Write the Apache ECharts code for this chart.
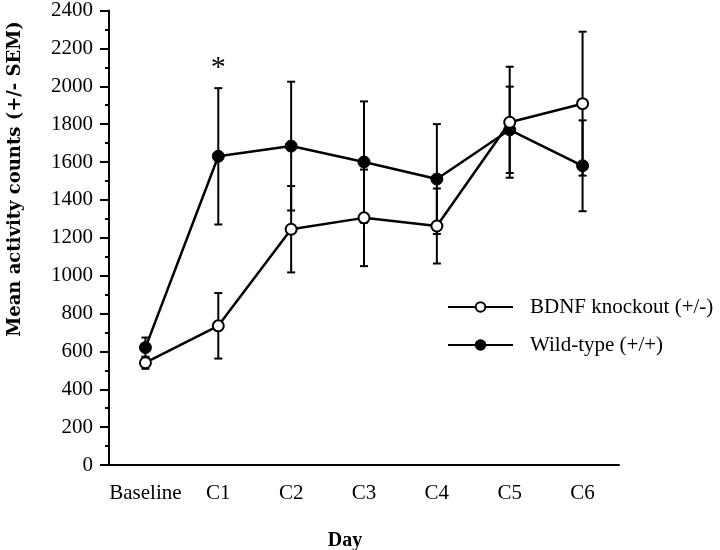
<!DOCTYPE html>
<html><head><meta charset="utf-8">
<script src="https://cdn.jsdelivr.net/npm/echarts@6/dist/echarts.min.js"></script>
<style>html,body{margin:0;padding:0;background:#fff}#c{width:720px;height:550px}</style>
</head><body><div id="c"></div>
<script>
const categories = ['Baseline','C1','C2','C3','C4','C5','C6'];
const koMean = [540, 735, 1245, 1305, 1262, 1810, 1908];
const koSem  = [32, 173, 228, 255, 198, 293, 380];
const wtMean = [620, 1630, 1684, 1600, 1510, 1770, 1580];
const wtSem  = [53, 360, 340, 320, 290, 228, 240];
const yTicks = [0, 200, 400, 600, 800, 1000, 1200, 1400, 1600, 1800, 2000, 2200, 2400];
const koName = 'BDNF knockout (+/-)';
const wtName = 'Wild-type (+/+)';
const starPoint = ['C1', 2136];

const serif = '"Liberation Serif", "Times New Roman", serif';

function errData(mean, sem){ return mean.map((m,i)=>[i, m - sem[i], m + sem[i]]); }
function renderErr(params, api){
  const x = api.value(0);
  const lo = api.coord([x, api.value(1)]);
  const hi = api.coord([x, api.value(2)]);
  const cw = 4;
  const st = {stroke:'#000', lineWidth:2};
  return {type:'group', children:[
    {type:'line', shape:{x1:lo[0], y1:lo[1], x2:hi[0], y2:hi[1]}, style:st},
    {type:'line', shape:{x1:lo[0]-cw, y1:lo[1], x2:lo[0]+cw, y2:lo[1]}, style:st},
    {type:'line', shape:{x1:hi[0]-cw, y1:hi[1], x2:hi[0]+cw, y2:hi[1]}, style:st}
  ]};
}

const chart = echarts.init(document.getElementById('c'), null, {renderer:'canvas'});
chart.setOption({
  animation:false,
  backgroundColor:'#fff',
  grid:{left:109, right:101, top:10, bottom:85, containLabel:false},
  title:{text:'Day', left:340, top:526, textAlign:'center',
    textStyle:{fontFamily:serif, fontWeight:'bold', fontSize:20, color:'#000'}},
  graphic:[{type:'text', x:15, y:179, rotation:Math.PI/2,
    style:{text:'Mean activity counts (+/- SEM)', fill:'#000', font:'bold 18px "DejaVu Serif", serif',
      textAlign:'center', textVerticalAlign:'middle'}}],
  legend:{orient:'vertical', left:442, top:291, itemWidth:65, itemHeight:12, itemGap:16,
    data:[koName, wtName],
    textStyle:{fontFamily:serif, fontSize:21, color:'#000', padding:[0,0,0,12], lineHeight:22}},
  xAxis:[{
    type:'category', data:categories, boundaryGap:true, position:'bottom',
    axisLine:{lineStyle:{color:'#000', width:2}},
    axisTick:{alignWithLabel:true, interval:0, length:7, lineStyle:{color:'#000', width:2}},
    axisLabel:{interval:0, fontFamily:serif, fontSize:21, color:'#000', margin:18},
    splitLine:{show:false}
  },{
    type:'category', data:categories, boundaryGap:true, position:'bottom',
    axisLine:{show:false},
    axisTick:{interval:0, length:4, lineStyle:{color:'#000', width:2}},
    axisLabel:{show:false}, splitLine:{show:false}
  }],
  yAxis:{
    type:'value', min:yTicks[0], max:yTicks[yTicks.length-1], interval:yTicks[1]-yTicks[0],
    axisLine:{show:true, lineStyle:{color:'#000', width:2}},
    axisTick:{show:true, length:9, lineStyle:{color:'#000', width:2}},
    minorTick:{show:true, splitNumber:2, length:4, lineStyle:{color:'#000', width:2}},
    axisLabel:{fontFamily:serif, fontSize:21, color:'#000', margin:16, formatter:(v)=>String(v)},
    splitLine:{show:false}
  },
  series:[
    {type:'custom', name:'wtErr', renderItem:renderErr, data:errData(wtMean, wtSem), z:1, silent:true},
    {type:'custom', name:'koErr', renderItem:renderErr, data:errData(koMean, koSem), z:1, silent:true},
    {type:'line', name:wtName, data:wtMean, z:3,
      symbol:'circle', symbolSize:12,
      lineStyle:{color:'#000', width:2.5},
      itemStyle:{color:'#000', borderColor:'#000', borderWidth:1},
      markPoint:{symbol:'circle', symbolSize:0,
        data:[{coord:starPoint, value:'*'}],
        label:{show:true, formatter:'*', fontFamily:serif, fontSize:30, color:'#000', offset:[0,8]}}
    },
    {type:'line', name:koName, data:koMean, z:4,
      symbol:'circle', symbolSize:11,
      lineStyle:{color:'#000', width:2.5},
      itemStyle:{color:'#fff', borderColor:'#000', borderWidth:2}
    }
  ]
});
</script></body></html>
